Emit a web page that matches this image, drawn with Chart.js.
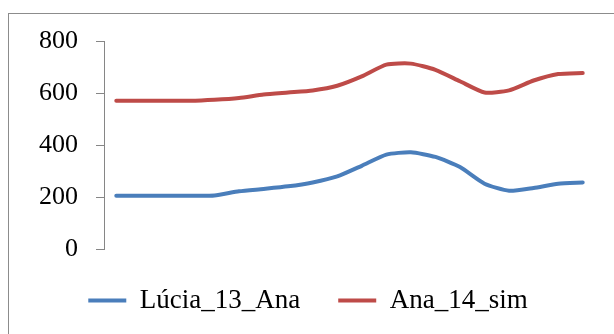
<!DOCTYPE html>
<html>
<head>
<meta charset="utf-8">
<script src="https://cdn.jsdelivr.net/npm/chart.js@4/dist/chart.umd.min.js"></script>
<style>
  html, body { margin: 0; padding: 0; background: #fff; overflow: hidden; }
  #wrap { position: relative; width: 614px; height: 334px; }
  #frame { position: absolute; left: 8px; top: 13px; width: 700px; height: 400px; border: 1px solid #8c8c8c; }
  canvas { position: absolute; left: 0; top: 0; }
</style>
</head>
<body>
<div id="wrap">
  <div id="frame"></div>
  <canvas id="c" width="614" height="334"></canvas>
</div>
<script>
// Twenty successive observations per series
const categories = ['1','2','3','4','5','6','7','8','9','10','11','12','13','14','15','16','17','18','19','20'];
const seriesNames = ['Lúcia_13_Ana', 'Ana_14_sim'];
const luciaValues = [205, 205, 205, 205, 206, 222, 231, 241, 256, 279, 320, 363, 372, 354, 315, 251, 224, 235, 251, 256];
const anaValues = [570, 570, 570, 570, 574, 581, 594, 602, 610, 628, 664, 709, 713, 689, 645, 602, 610, 648, 673, 677];
const yTicks = [0, 200, 400, 600, 800];

const BLUE = '#4a7ebb';
const RED = '#be4b48';
const AXIS = '#868686';
const SERIF = "'Liberation Serif', 'Times New Roman', serif";

new Chart(document.getElementById('c'), {
  type: 'line',
  data: {
    labels: categories,
    datasets: [
      { label: seriesNames[0], data: luciaValues, borderColor: BLUE, backgroundColor: BLUE,
        borderWidth: 4, pointRadius: 0, tension: 0.2, borderCapStyle: 'round', borderJoinStyle: 'round' },
      { label: seriesNames[1], data: anaValues, borderColor: RED, backgroundColor: RED,
        borderWidth: 4, pointRadius: 0, tension: 0.2, borderCapStyle: 'round', borderJoinStyle: 'round' }
    ]
  },
  options: {
    responsive: false,
    animation: false,
    devicePixelRatio: 1,
    layout: { padding: { left: 21, right: 19, top: 41, bottom: 10 } },
    scales: {
      x: { display: false, offset: true },
      y: {
        min: yTicks[0],
        max: yTicks[yTicks.length - 1],
        afterBuildTicks: (axis) => { axis.ticks = yTicks.map(v => ({ value: v })); },
        border: { display: true, color: AXIS, width: 1 },
        grid: { display: true, drawOnChartArea: false, drawTicks: true, tickLength: 8, color: AXIS },
        ticks: { padding: 18, color: '#000', font: { family: SERIF, size: 26 } }
      }
    },
    plugins: {
      tooltip: { enabled: false },
      legend: {
        position: 'bottom',
        labels: {
          color: '#000',
          font: { family: SERIF, size: 27 },
          boxWidth: 38,
          boxHeight: 4,
          padding: 38,
          generateLabels: (chart) => chart.data.datasets.map((ds, i) => ({
            text: ds.label,
            fillStyle: ds.borderColor,
            strokeStyle: ds.borderColor,
            lineWidth: 0,
            hidden: false,
            datasetIndex: i
          }))
        }
      }
    }
  }
});
</script>
</body>
</html>
